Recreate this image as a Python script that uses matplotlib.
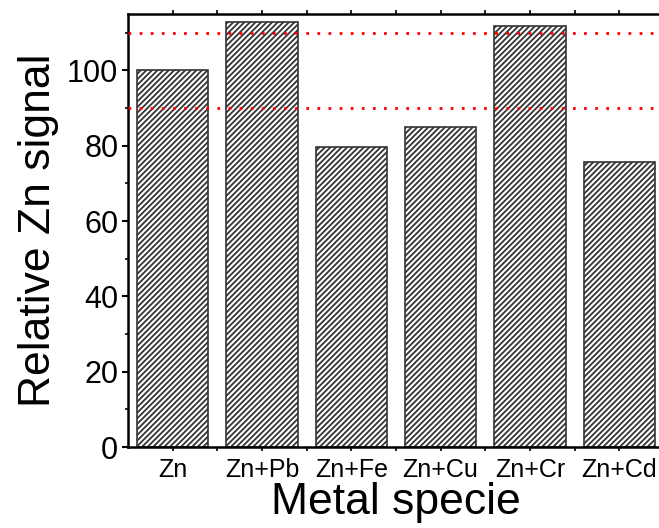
import matplotlib
matplotlib.use("Agg")
import matplotlib.pyplot as plt
from matplotlib.ticker import MultipleLocator, FixedLocator

plt.rcParams['font.family'] = ['Liberation Sans', 'DejaVu Sans']
plt.rcParams['hatch.linewidth'] = 1.3

categories = ["Zn", "Zn+Pb", "Zn+Fe", "Zn+Cu", "Zn+Cr", "Zn+Cd"]
values = [100, 113, 79.8, 85.1, 111.7, 75.7]
ref_lines = [110, 90]

fig = plt.figure(figsize=(6.59, 5.28), dpi=100)
ax = fig.add_axes([0.1942, 0.1534, 0.8134, 0.8201])

x = list(range(len(categories)))
ax.bar(x, values, width=0.8, color='white', edgecolor='#333333',
       linewidth=1.2, hatch='//////', zorder=2)

for r in ref_lines:
    ax.axhline(r, color='red', linewidth=2.0, linestyle=(0, (1, 3)), zorder=3)

ax.set_xlim(-0.5, len(categories) - 0.5)
ax.set_ylim(0, 115)

ax.set_xticks(x)
ax.set_xticklabels(categories, fontsize=18)
ax.xaxis.set_minor_locator(FixedLocator([i + 0.5 for i in x]))
ax.yaxis.set_major_locator(MultipleLocator(20))
ax.yaxis.set_minor_locator(MultipleLocator(10))
ax.tick_params(axis='y', which='major', labelsize=22, direction='out', length=4, width=1.5, pad=3)
ax.tick_params(axis='y', which='minor', direction='out', length=2.5, width=1.2)
ax.tick_params(axis='x', which='major', direction='out', length=3, width=1.2, pad=5, top=True)
ax.tick_params(axis='x', which='minor', direction='out', length=3, width=1.2, top=True)

for s in ax.spines.values():
    s.set_linewidth(1.8)
ax.spines['right'].set_visible(False)

ax.set_xlabel("Metal specie", fontsize=32, labelpad=0)
ax.set_ylabel("Relative Zn signal", fontsize=32, labelpad=6)

fig.savefig("out.png", dpi=100)
